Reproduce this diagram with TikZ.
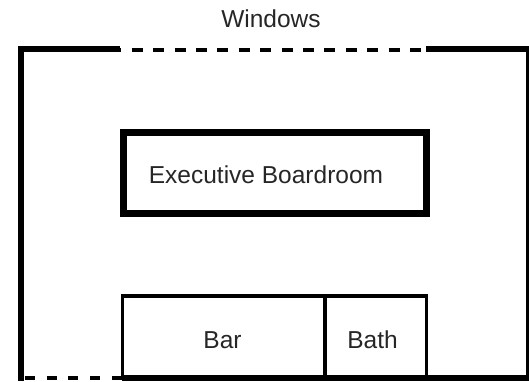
\documentclass[tikz,border=0pt]{standalone}
\usepackage{fontspec}
\setmainfont{Liberation Sans}
\begin{document}
\begin{tikzpicture}[x=1pt,y=-1pt,
  wall/.style={line width=6pt,line join=miter},
  window/.style={line width=4pt},
  room/.style={line width=6.5pt},
  fixture/.style={line width=3.5pt},
  label/.style={anchor=base,inner sep=0pt,text=black!85,font=\fontsize{24.5}{29}\selectfont}]
\useasboundingbox (0,0) rectangle (529,381);
% outer walls
\draw[wall] (120,49) -- (21,49) -- (21,381);
\draw[wall] (426,49) -- (529,49) -- (529,378) -- (122,378);
% windows
\draw[window,dash pattern=on 11pt off 10.4pt,dash phase=9.7pt] (120,50) -- (426,50);
\draw[window,line width=3.5pt,dash pattern=on 10pt off 11.7pt] (25,378) -- (122,378);
% boardroom
\draw[room] (123.5,132.5) rectangle (426.5,213.5);
% bar and bath
\draw[fixture] (122.5,378) rectangle (426.5,296);
\draw[fixture] (325,296) -- (325,378);
% labels
\node[label] (win) at (271,27) {Windows};
\node[label] (board) at (266,183) {Executive Boardroom};
\node[label] (bar) at (222.5,348.3) {Bar};
\node[label] (bath) at (372.5,348.3) {Bath};
\end{tikzpicture}
\end{document}
